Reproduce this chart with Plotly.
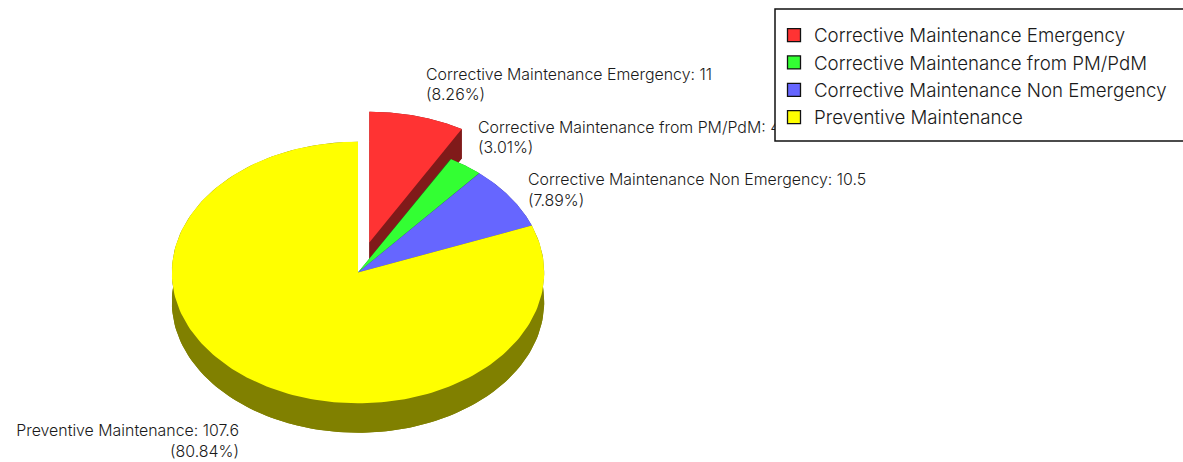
import numpy as np
import plotly.graph_objects as go

categories = ["Corrective Maintenance Emergency", "Corrective Maintenance from PM/PdM",
              "Corrective Maintenance Non Emergency", "Preventive Maintenance"]
values = [11, 4, 10.5, 107.6]
value_labels = ["11", "4", "10.5", "107.6"]
percent_labels = ["8.26%", "3.01%", "7.89%", "80.84%"]
explode = [0.237, 0, 0, 0]
colors = ["#FF3333", "#33FF33", "#6666FF", "#FFFF00"]
wall_colors = ["#801A1A", "#1A801A", "#333380", "#808000"]

W, H = 1183, 462
CX, CY, RX, RY, DEPTH = 358, 272.5, 186.2, 130.8, 29.4 / 130.8

label_px = [(426, 86, "middle right"), (478, 139, "middle right"),
            (528, 191.5, "middle right"), (239, 442.5, "middle left")]

def px_x(p):
    return (p - CX) / RX

def px_y(p):
    return (CY - p) / RY

total = sum(values)
bounds = 2 * np.pi * np.concatenate([[0], np.cumsum(values)]) / total

fig = go.Figure()

def sector(a0, a1, e):
    mid = (a0 + a1) / 2
    t = np.linspace(a0, a1, 200)
    ox, oy = e * np.sin(mid), e * np.cos(mid)
    return ox, oy, ox + np.sin(t), oy + np.cos(t)

def poly(x, y, color, **kw):
    kw.setdefault("showlegend", False)
    kw.setdefault("hoverinfo", "skip")
    fig.add_trace(go.Scatter(x=x, y=y, mode="lines", fill="toself", fillcolor=color,
                             line=dict(width=0, color=color), **kw))

# side walls first
for i in range(len(values)):
    ox, oy, xs, ys = sector(bounds[i], bounds[i + 1], explode[i])
    c = wall_colors[i]
    poly(np.concatenate([[ox], xs, [ox]]), np.concatenate([[oy], ys, [oy]]) - DEPTH, c)
    poly(np.concatenate([xs, xs[::-1]]), np.concatenate([ys, ys[::-1] - DEPTH]), c)
    poly([ox, xs[-1], xs[-1], ox], [oy, ys[-1], ys[-1] - DEPTH, oy - DEPTH], c)
    poly([ox, xs[0], xs[0], ox], [oy, ys[0], ys[0] - DEPTH, oy - DEPTH], c)
# top faces
for i in range(len(values)):
    ox, oy, xs, ys = sector(bounds[i], bounds[i + 1], explode[i])
    poly(np.concatenate([[ox], xs, [ox]]), np.concatenate([[oy], ys, [oy]]), colors[i],
         name=categories[i], hoverinfo="name")
# slice labels: drawn as text traces so the legend box sits over them
for i, (lx, ly, pos) in enumerate(label_px):
    fig.add_trace(go.Scatter(
        x=[px_x(lx)], y=[px_y(ly)], mode="text", textposition=pos, showlegend=False,
        hoverinfo="skip", cliponaxis=False,
        text=[f"{categories[i]}: {value_labels[i]}<br>({percent_labels[i]})"],
        textfont=dict(family="Inter", size=15.9, color="#1a1a1a", weight=300)))
# legend entries
for i in range(len(values)):
    fig.add_trace(go.Scatter(x=[None], y=[None], mode="markers", name=categories[i],
                             marker=dict(symbol="square", size=13, color=colors[i],
                                         line=dict(color="#111111", width=1.3))))

fig.update_layout(
    width=W, height=H, margin=dict(l=0, r=0, t=0, b=0),
    paper_bgcolor="white", plot_bgcolor="white",
    xaxis=dict(visible=False, range=[px_x(0), px_x(W)], fixedrange=True),
    yaxis=dict(visible=False, range=[px_y(H), px_y(0)], fixedrange=True),
    shapes=[dict(type="rect", xref="paper", yref="paper", x0=775 / W, x1=1.02,
                 y0=1 - 141 / H, y1=1 - 9 / H, layer="above",
                 line=dict(color="#111111", width=1.5), fillcolor="white")],
    legend=dict(x=774 / W, y=1 - 16.5 / H, xanchor="left", yanchor="top",
                bgcolor="rgba(0,0,0,0)", borderwidth=0,
                font=dict(family="Inter", size=18.7, color="#1a1a1a", weight=300)),
)
fig.write_html("out.html", post_script="document.body.style.margin='0';",
               config=dict(displayModeBar=False))
